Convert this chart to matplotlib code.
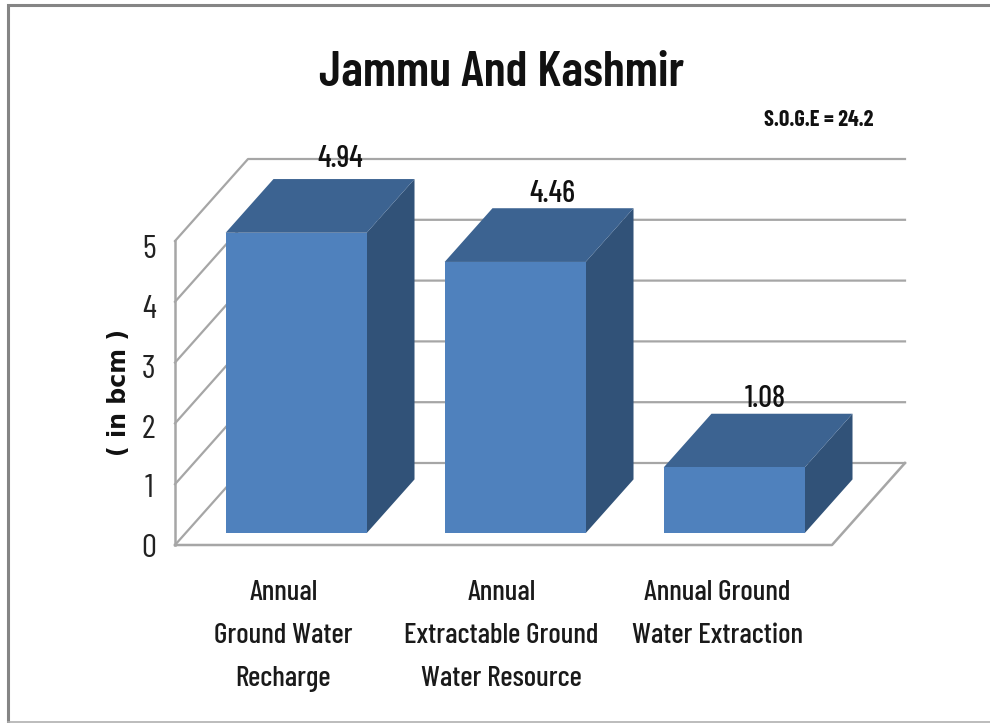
import matplotlib
matplotlib.use("Agg")
import matplotlib.pyplot as plt
from matplotlib.patches import Polygon

W, H = 990, 723
categories = ["Annual\nGround Water\nRecharge", "Annual\nExtractable Ground\nWater Resource", "Annual Ground\nWater Extraction"]
values = [4.94, 4.46, 1.08]
value_labels = ["4.94", "4.46", "1.08"]
yticks = [0, 1, 2, 3, 4, 5]
title = "Jammu And Kashmir"
note = "S.O.G.E = 24.2"
ylabel = "( in bcm )"

narrow = ["Barlow Condensed", "Liberation Sans"]

fig = plt.figure(figsize=(W/100, H/100), dpi=100, facecolor="white")
bg = fig.add_axes([0, 0, 1, 1]); bg.set_xlim(0, W); bg.set_ylim(H, 0); bg.axis("off")
bg.plot([8, 8, W], [H, 4.5, 4.5], color="#858585", lw=2.2, solid_joinstyle="miter")
bg.plot([8, W], [722, 722], color="#b0b0b0", lw=1.2)

L, R, B, T = 175, 832, 545, 241
ax = fig.add_axes([L/W, 1-B/H, (R-L)/W, (B-T)/H], facecolor="none")
ax.set_xlim(0, 3); ax.set_ylim(0, 5); ax.axis("off")
DX, DY = 73/219, 82/60.8

def P(x, v, d=0.0):
    return (x + d*DX, v + d*DY)

grid = "#a6a6a6"
for t in yticks:
    ax.plot(*zip(P(0, t, 0), P(0, t, 1), P(3, t, 1)), color=grid, lw=1.6, clip_on=False)
    ax.text(-0.12, t * 0.984 - 0.07, str(t), ha="center", va="center", fontsize=24, family=narrow, color="#222222", clip_on=False)
ax.plot(*zip(P(0, 0, 0), P(0, 5, 0)), color=grid, lw=1.8, clip_on=False)
ax.plot(*zip(P(0, 0, 0), P(3, 0, 0), P(3, 0, 1)), color=grid, lw=1.8, clip_on=False)

bw = 0.644
d0, d1 = 0.145, 0.80
label_shift = [0.255, 0.225, 0.195]
label_lift = [0.07, -0.03, -0.02]
cat_shift = [-0.005, -0.01, -0.022]
for i, (v, c, vl) in enumerate(zip(values, categories, value_labels)):
    x0, x1 = i + 0.505 - bw/2, i + 0.505 + bw/2
    ax.add_patch(Polygon([P(x1,0,d0),P(x1,v,d0),P(x1,v,d1),P(x1,0,d1)], fc="#315278", ec="none", clip_on=False, zorder=3))
    ax.add_patch(Polygon([P(x0,v,d0),P(x1,v,d0),P(x1,v,d1),P(x0,v,d1)], fc="#3c6391", ec="none", clip_on=False, zorder=3))
    ax.add_patch(Polygon([P(x0,0,d0),P(x1,0,d0),P(x1,v,d0),P(x0,v,d0)], fc="#4f81bd", ec="none", clip_on=False, zorder=4))
    ax.text(i + 0.5 + label_shift[i], P(0, v, d1 + 0.02)[1] + label_lift[i], vl, ha="center", va="bottom", fontsize=22, family=narrow, weight=500, color="#111111", zorder=5, clip_on=False)
    ax.text(i + 0.5 + cat_shift[i], -0.58, c, ha="center", va="top", fontsize=21, family=narrow, weight=500, color="#1a1a1a", linespacing=1.84, clip_on=False)

bg.text(502, 73, title, ha="center", va="center", fontsize=36, family=narrow, weight=600, color="#111111")
bg.text(819, 120, note, ha="center", va="center", fontsize=16, family=narrow, weight="bold", color="#111111")
bg.text(119, 393, ylabel, ha="center", va="center", rotation=90, fontsize=17, family="DejaVu Sans", weight="bold", color="#111111")

fig.savefig("out.png", dpi=100)
